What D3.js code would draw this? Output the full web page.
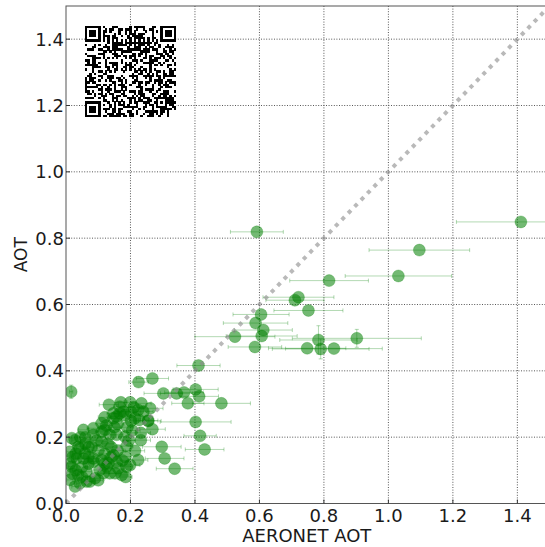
<!DOCTYPE html>
<html>
<head>
<meta charset="utf-8">
<script src="https://cdn.jsdelivr.net/npm/d3@7"></script>
<style>
html,body{margin:0;padding:0;background:#fff;}
svg{display:block;}
text{font-family:"DejaVu Sans",sans-serif;fill:#1a1a1a;}
</style>
</head>
<body>
<svg id="chart" width="545" height="547"></svg>
<script>
// ---- data ----
const aeronet = [1.411,1.096,1.031,0.592,0.816,0.721,0.710,0.752,0.605,0.588,0.612,0.607,0.524,0.586,0.902,0.783,0.748,0.790,0.831,
  0.411,0.225,0.268,0.302,0.343,0.366,0.402,0.413,0.378,0.482,0.016,0.133,0.199,0.234,0.261,0.178,0.147,0.255,0.227,0.268,0.402,
  0.416,0.232,0.232,0.121,0.136,0.297,0.430,0.306,0.337,0.214,0.224,0.188,0.183,0.147,0.188,0.162,
  0.167,0.224,0.157,0.183,0.214,0.085,0.054,0.111,0.085,0.157,0.183,0.111,0.018,0.038,0.012,0.059,0.033,0.085,0.111,0.131,0.157,
  0.018,0.012,0.038,0.064,0.064,0.090,0.116,0.126,0.152,0.173,0.199,0.028,0.028,0.105,0.074,0.043,0.043,0.085,0.054,0.147,0.111,
  0.240,0.167,0.136,0.202,0.202,0.020,0.050,0.070,0.100,0.030,0.060,0.095,0.012,0.045,0.070,0.140,0.120,0.185,0.255,
  0.120,0.160,0.190,0.170,0.210,0.080,0.130,0.160,0.050,0.100,0.020,0.070,0.120,0.140,0.060,0.175,0.195,0.205,0.150,0.125,0.030];
const aot = [0.849,0.764,0.686,0.819,0.672,0.622,0.613,0.582,0.570,0.544,0.523,0.505,0.503,0.472,0.498,0.493,0.468,0.466,0.467,
  0.416,0.366,0.377,0.332,0.332,0.335,0.344,0.323,0.302,0.302,0.337,0.298,0.305,0.302,0.287,0.277,0.272,0.249,0.252,0.224,0.246,
  0.204,0.213,0.191,0.222,0.207,0.171,0.163,0.136,0.105,0.159,0.131,0.173,0.141,0.146,0.111,0.106,
  0.292,0.282,0.262,0.267,0.257,0.227,0.222,0.216,0.207,0.207,0.201,0.186,0.197,0.171,0.156,0.151,0.136,0.136,0.131,0.121,0.126,
  0.111,0.071,0.086,0.096,0.066,0.076,0.091,0.111,0.091,0.086,0.116,0.051,0.191,0.101,0.066,0.061,0.166,0.126,0.136,0.257,0.242,
  0.277,0.272,0.091,0.276,0.249,0.090,0.110,0.170,0.160,0.150,0.180,0.190,0.120,0.200,0.120,0.170,0.150,0.080,0.250,
  0.260,0.240,0.230,0.305,0.290,0.170,0.180,0.160,0.080,0.070,0.140,0.140,0.120,0.140,0.200,0.130,0.190,0.220,0.230,0.235,0.100];
const xErr = [0.200,0.156,0.165,0.082,0.122,0.110,0.090,0.107,0.087,0.100,0.090,0.110,0.124,0.083,0.200,0.120,0.120,0.150,0.150,
  0.067,0.030,0.050,0.060,0.050,0.060,0.070,0.060,0.050,0.090,0.005,0.030,0.020,0.030,0.040,0.020,0.020,0.040,0.030,0.040,0.110,
  0.050,0.030,0.030,0.020,0.020,0.060,0.060,0.060,0.057,0.030,0.030,0.020,0.020,0.020,0.020,0.020,
  0.020,0.030,0.020,0.020,0.030,0.020,0.015,0.020,0.020,0.020,0.020,0.020,0.010,0.015,0.010,0.015,0.010,0.020,0.020,0.020,0.020,
  0.010,0.010,0.010,0.015,0.015,0.015,0.020,0.020,0.020,0.020,0.030,0.010,0.010,0.020,0.015,0.010,0.010,0.020,0.015,0.020,0.020,
  0.030,0.020,0.020,0.030,0.030,0.010,0.010,0.015,0.020,0.010,0.015,0.020,0.010,0.010,0.015,0.020,0.020,0.020,0.030,
  0.020,0.020,0.020,0.020,0.030,0.015,0.020,0.020,0.010,0.015,0.010,0.015,0.020,0.020,0.015,0.020,0.020,0.025,0.020,0.020,0.010];
const yErr = [0,0,0,0,0,0,0,0,0,0,0,0,0,0,0.027,0.043,0,0.030,0,
  0,0,0,0,0,0,0,0,0,0,0.020];
const xTicks = [0.0,0.2,0.4,0.6,0.8,1.0,1.2,1.4];
const yTicks = [0.0,0.2,0.4,0.6,0.8,1.0,1.2,1.4];
const axisMax = 1.5;

// ---- layout ----
const svg = d3.select("#chart");
const L = 66, R = 549.6, T = 6, B = 503.5;
const x = d3.scaleLinear().domain([0, axisMax]).range([L, R]);
const y = d3.scaleLinear().domain([0, axisMax]).range([B, T]);

svg.append("defs").append("clipPath").attr("id","plotclip")
  .append("rect").attr("x",L).attr("y",T).attr("width",R-L).attr("height",B-T);

svg.append("rect").attr("x",0).attr("y",0).attr("width",545).attr("height",547).attr("fill","#fff");

// grid
const grid = svg.append("g");
grid.selectAll("line.gx").data(xTicks.filter(d=>d>0)).join("line")
  .attr("x1",d=>x(d)).attr("x2",d=>x(d)).attr("y1",T).attr("y2",B)
  .attr("stroke","#444").attr("stroke-width",0.9).attr("stroke-dasharray","1,1.6");
grid.selectAll("line.gy").data(yTicks.filter(d=>d>0)).join("line")
  .attr("y1",d=>y(d)).attr("y2",d=>y(d)).attr("x1",L).attr("x2",R)
  .attr("stroke","#444").attr("stroke-width",0.9).attr("stroke-dasharray","1,1.6");

const pts = aeronet.map((v,i)=>({x:v, y:aot[i], xe:xErr[i]||0, ye:yErr[i]||0}));
const plot = svg.append("g").attr("clip-path","url(#plotclip)");

// error bars
const eb = plot.append("g").attr("stroke","#008000").attr("stroke-opacity",0.3).attr("stroke-width",1);
pts.forEach(p=>{
  if (p.xe>0.004){
    eb.append("line").attr("x1",x(p.x-p.xe)).attr("x2",x(p.x+p.xe)).attr("y1",y(p.y)).attr("y2",y(p.y));
    [p.x-p.xe,p.x+p.xe].forEach(e=>eb.append("line").attr("x1",x(e)).attr("x2",x(e)).attr("y1",y(p.y)-2).attr("y2",y(p.y)+2));
  }
  if (p.ye>0){
    eb.append("line").attr("x1",x(p.x)).attr("x2",x(p.x)).attr("y1",y(p.y-p.ye)).attr("y2",y(p.y+p.ye));
    [p.y-p.ye,p.y+p.ye].forEach(e=>eb.append("line").attr("y1",y(e)).attr("y2",y(e)).attr("x1",x(p.x)-2).attr("x2",x(p.x)+2));
  }
});

// points
plot.append("g").selectAll("circle").data(pts).join("circle")
  .attr("cx",d=>x(d.x)).attr("cy",d=>y(d.y)).attr("r",6)
  .attr("fill","#008000").attr("fill-opacity",0.55)
  .attr("stroke","#008000").attr("stroke-opacity",0.3).attr("stroke-width",0.8);

// 1:1 line
plot.append("line").attr("x1",x(0)).attr("y1",y(0)).attr("x2",x(axisMax)).attr("y2",y(axisMax))
  .attr("stroke","#8a8a8a").attr("stroke-opacity",0.6).attr("stroke-width",4).attr("stroke-dasharray","4,5.2");

// frame
svg.append("rect").attr("x",L).attr("y",T).attr("width",R-L).attr("height",B-T)
  .attr("fill","none").attr("stroke","#555").attr("stroke-width",1);

// ticks (inward)
svg.append("g").selectAll("line").data(xTicks).join("line")
  .attr("x1",d=>x(d)).attr("x2",d=>x(d)).attr("y1",B).attr("y2",B-4).attr("stroke","#333");
svg.append("g").selectAll("line").data(yTicks).join("line")
  .attr("y1",d=>y(d)).attr("y2",d=>y(d)).attr("x1",L).attr("x2",L+4).attr("stroke","#333");

// tick labels
svg.append("g").selectAll("text").data(xTicks).join("text")
  .attr("x",d=>x(d)).attr("y",B+18).attr("text-anchor","middle").attr("font-size",18)
  .text(d=>d.toFixed(1));
svg.append("g").selectAll("text").data(yTicks).join("text")
  .attr("x",L-2).attr("y",d=>y(d)+6.5).attr("text-anchor","end").attr("font-size",18)
  .text(d=>d.toFixed(1));

// axis labels
svg.append("text").attr("x",(L+R)/2-1).attr("y",542).attr("text-anchor","middle").attr("font-size",18).text("AERONET AOT");
svg.append("text").attr("transform",`translate(27,${(T+B)/2}) rotate(-90)`).attr("text-anchor","middle").attr("font-size",17).text("AOT");

// QR-code style badge
const N = 41, qx = 85, qy = 26, qs = 91, ms = qs/N;
function qrBit(r,c){
  const fp = [[0,0],[0,N-7],[N-7,0]];
  for (const [r0,c0] of fp){
    const dr=r-r0, dc=c-c0;
    if (dr>=-1 && dr<=7 && dc>=-1 && dc<=7){
      if (dr<0||dr>6||dc<0||dc>6) return 0;
      const m=Math.max(Math.abs(dr-3),Math.abs(dc-3));
      return (m===3||m<=1)?1:0;
    }
  }
  const ac=N-7, am=Math.max(Math.abs(r-ac),Math.abs(c-ac));
  if (am<=2) return (am===2||am===0)?1:0;
  if (r===6) return c%2===0?1:0;
  if (c===6) return r%2===0?1:0;
  let h=Math.sin(r*12.9898+c*78.233)*43758.5453; h=h-Math.floor(h);
  return h<0.5?1:0;
}
const cells=[];
for(let r=0;r<N;r++) for(let c=0;c<N;c++) if(qrBit(r,c)) cells.push([r,c]);
const qr = svg.append("g");
qr.append("rect").attr("x",qx).attr("y",qy).attr("width",qs).attr("height",qs).attr("fill","#fff");
qr.selectAll("rect.m").data(cells).join("rect").attr("class","m")
  .attr("x",d=>qx+d[1]*ms).attr("y",d=>qy+d[0]*ms).attr("width",ms+0.15).attr("height",ms+0.15)
  .attr("fill","#000").attr("shape-rendering","crispEdges");
</script>
</body>
</html>
